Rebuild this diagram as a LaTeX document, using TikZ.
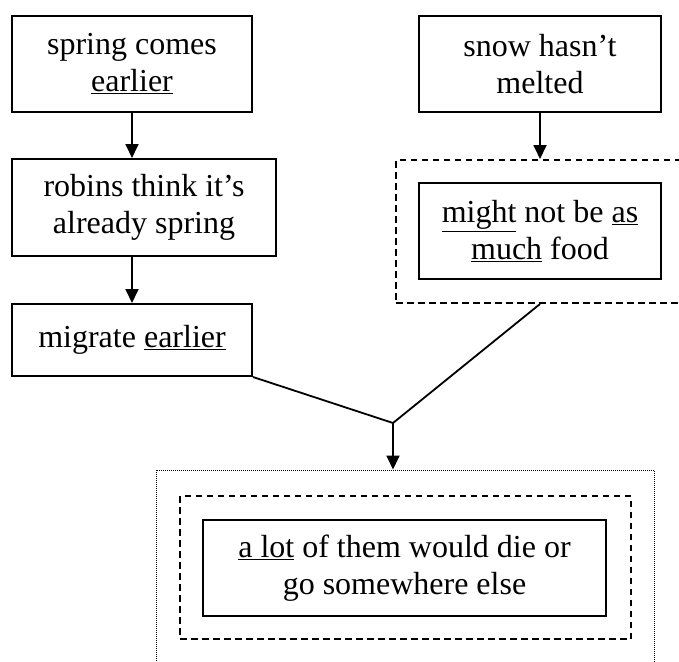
\documentclass[tikz,border=0pt]{standalone}
\usepackage{fontspec}
\setmainfont{Liberation Serif}
\usetikzlibrary{arrows.meta,calc}
\begin{document}
\begin{tikzpicture}[x=1pt,y=-1pt,
  box/.style={draw,line width=2pt,align=center,inner sep=0pt,
    font=\fontsize{32}{37}\selectfont},
  dashbox/.style={draw,line width=2pt,dash pattern=on 6.5pt off 4.5pt,inner sep=0pt},
  dotbox/.style={draw,line width=1pt,dash pattern=on 1pt off 1pt,inner sep=0pt},
  link/.style={line width=1.8pt},
  arr/.style={link,-{Triangle[length=14pt,width=13pt]}}]
\useasboundingbox (0,0) rectangle (679,661);
\clip (0,0) rectangle (679,661);
\fill[white] (0,0) rectangle (679,661);

% left chain
\node[box,minimum width=240pt,minimum height=96pt] (spring) at (132,64)
  {spring comes\\\underline{earlier}};
\node[box,minimum width=264pt,minimum height=97pt] (robins) at (144,207.5)
  {robins think it’s\\already spring};
\node[box,minimum width=240pt,minimum height=72pt] (migrate) at (132,340)
  {migrate \underline{earlier}};

% right chain
\node[box,minimum width=242pt,minimum height=96pt] (snow) at (540,64)
  {snow hasn’t\\melted};
\node[dashbox,minimum width=324pt,minimum height=143pt] (foodgroup) at (558,231.5) {};
\node[box,minimum width=242pt,minimum height=96pt] (food) at (540,231)
  {\underline{might} not be \underline{as}\\\underline{much} food};

% outcome
\node[dotbox,minimum width=498pt,minimum height=230pt] (outer) at (405,585) {};
\node[dashbox,minimum width=451pt,minimum height=143pt] (outcomegroup) at (405.5,567.5) {};
\node[box,minimum width=403pt,minimum height=96pt] (outcome) at (404.5,568)
  {\underline{a lot} of them would die or\\go somewhere else};

\coordinate (j) at (393,423);

% connectors
\draw[arr] (spring.south) -- (spring.south |- robins.north);
\draw[arr] (migrate.north |- robins.south) -- (migrate.north);
\draw[arr] (snow.south) -- (snow.south |- foodgroup.north);
\draw[link] (migrate.south east) -- (j);
\draw[link] (foodgroup.south -| food.south) -- (j);
\draw[arr] (j) -- (j |- outer.north);
\end{tikzpicture}
\end{document}
